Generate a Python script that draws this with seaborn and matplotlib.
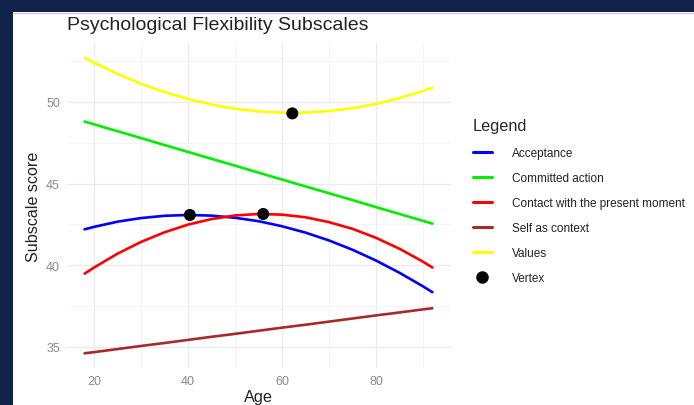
import pandas as pd
import matplotlib
matplotlib.use("Agg")
import matplotlib.pyplot as plt
from matplotlib.lines import Line2D
from matplotlib.patches import Rectangle
import seaborn as sns

# valores (curvas ajustadas por edad)
ages = [18, 20, 25, 30, 35, 40, 45, 50, 55, 60, 65, 70, 75, 80, 85, 90, 92]
acceptance = [42.20, 42.35, 42.67, 42.89, 43.03, 43.08, 43.04, 42.91, 42.70,
              42.39, 42.00, 41.52, 40.95, 40.29, 39.54, 38.71, 38.35]
committed = [48.80, 48.63, 48.21, 47.79, 47.36, 46.94, 46.52, 46.10, 45.67,
             45.25, 44.83, 44.41, 43.99, 43.56, 43.14, 42.72, 42.55]
contact = [39.49, 39.86, 40.71, 41.43, 42.02, 42.49, 42.83, 43.05, 43.14,
           43.10, 42.94, 42.64, 42.23, 41.68, 41.01, 40.22, 39.86]
self_ctx = [34.61, 34.68, 34.87, 35.06, 35.24, 35.43, 35.62, 35.80, 35.99,
            36.18, 36.36, 36.55, 36.74, 36.93, 37.11, 37.30, 37.37]
values = [52.70, 52.40, 51.71, 51.11, 50.60, 50.18, 49.84, 49.58, 49.42,
          49.34, 49.35, 49.44, 49.62, 49.88, 50.24, 50.68, 50.88]

subscales = ["Acceptance", "Committed action", "Contact with the present moment",
             "Self as context", "Values"]
colors = ["#0000ff", "#00ee00", "#ff0000", "#a52a2a", "#ffff00"]

vertex_age = [40.4, 56.0, 62.2]
vertex_score = [43.08, 43.14, 49.30]

x_ticks = [20, 40, 60, 80]
y_ticks = [35, 40, 45, 50]

# tabla larga para seaborn
series = [acceptance, committed, contact, self_ctx, values]
rows = []
for name, vals in zip(subscales, series):
    for a, v in zip(ages, vals):
        rows.append({"Age": a, "score": v, "Subscale": name})
df = pd.DataFrame(rows)
vdf = pd.DataFrame({"Age": vertex_age, "score": vertex_score})

sns.set_style("white")
plt.rcParams["font.family"] = ["Liberation Sans", "DejaVu Sans"]

fig = plt.figure(figsize=(6.94, 4.06), dpi=100)
fig.patch.set_facecolor("#11224b")
fig.patches.append(Rectangle((13 / 694, 0), 1, 1 - 13 / 406, transform=fig.transFigure,
                             facecolor="white", edgecolor="none", zorder=-2))
fig.add_artist(Line2D([13 / 694, 1], [1 - 13.5 / 406] * 2, color="#c9ccd4", lw=1,
                      zorder=-1))

ax = fig.add_axes([67 / 694, 1 - 369 / 406, 384 / 694, 325 / 406])
ax.set_facecolor("white")

sns.lineplot(data=df, x="Age", y="score", hue="Subscale", hue_order=subscales,
             palette=dict(zip(subscales, colors)), lw=1.9, legend=False, ax=ax)
sns.scatterplot(data=vdf, x="Age", y="score", color="black", s=75,
                edgecolor="none", zorder=5, ax=ax)

ax.set_xlim(14.26, 95.96)
ax.set_ylim(33.71, 53.61)
ax.set_xticks(x_ticks)
ax.set_yticks(y_ticks)
ax.set_xticks([30, 50, 70, 90], minor=True)
ax.set_yticks([37.5, 42.5, 47.5, 52.5], minor=True)
ax.grid(True, which="major", color="#ebebeb", lw=0.9)
ax.grid(True, which="minor", color="#f3f3f3", lw=0.6)
ax.set_axisbelow(True)
ax.tick_params(which="both", length=0, labelsize=9, labelcolor="#8a8a8a", pad=5)
for s in ax.spines.values():
    s.set_visible(False)
ax.set_xlabel("")
ax.set_ylabel("")

fig.text(67 / 694, 1 - 25 / 406, "Psychological Flexibility Subscales",
         fontsize=14, color="#222222", ha="left", va="center")
fig.text(33 / 694, 1 - 207 / 406, "Subscale score", fontsize=11.6, color="#222222",
         rotation=90, ha="center", va="center")
fig.text(258 / 694, 1 - 398 / 406, "Age", fontsize=11.7, color="#222222",
         ha="center", va="center")

handles = [Line2D([], [], color=c, lw=2.2) for c in colors]
handles.append(Line2D([], [], color="black", marker="o", ls="none", markersize=8))
leg = fig.legend(handles, subscales + ["Vertex"], title="Legend",
                 loc="upper left", bbox_to_anchor=(467 / 694, 1 - 113 / 406),
                 frameon=False, fontsize=8.5, title_fontsize=11.7,
                 alignment="left", borderpad=0, handlelength=1.6,
                 handletextpad=1.7, labelspacing=1.1)
leg._legend_box.sep = 10
for t in leg.get_texts():
    t.set_color("#222222")

fig.savefig("out.png", dpi=100, facecolor=fig.get_facecolor())
